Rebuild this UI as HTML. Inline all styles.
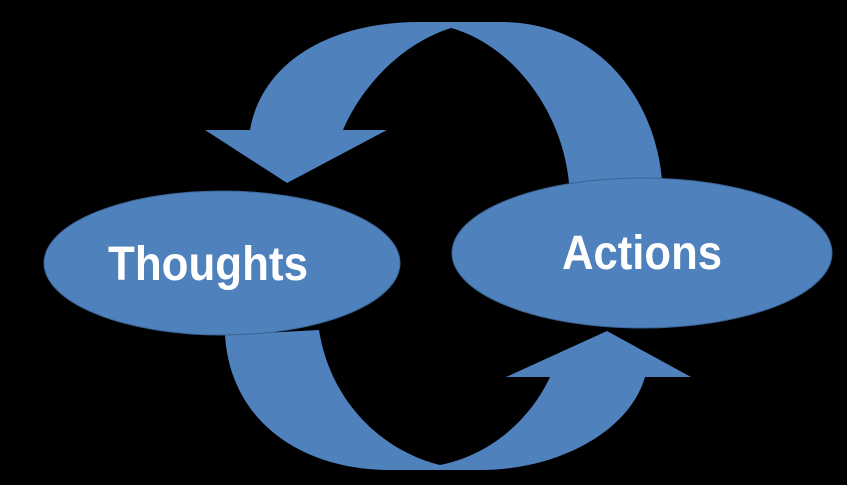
<!DOCTYPE html>
<html><head><style>html,body{margin:0;padding:0;background:#000;}svg{display:block}</style></head>
<body>
<svg width="847" height="485" viewBox="0 0 847 485" xmlns="http://www.w3.org/2000/svg">
<rect width="847" height="485" fill="#000"/>
<path d="M205,130 L250,130 C262,62 330,22 420,22 L500,22 C600,22 655,100 662,180 L569,183 C562,110 512,45 451,28 C398,45 360,90 343,130 L387,130 L287,183 Z" fill="#4f81bd"/>
<path d="M225,335 C230,420 300,470 390,470 L480,470 C560,470 630,430 645,377 L691,377 L607,331 L506,377 L550,377 C530,420 490,455 440,465 C380,450 330,400 319,330 Z" fill="#4f81bd"/>
<ellipse cx="222" cy="263" rx="178" ry="72" fill="#4f81bd" stroke="#3a6494" stroke-width="1"/>
<ellipse cx="642" cy="253" rx="190" ry="75" fill="#4f81bd" stroke="#3a6494" stroke-width="1"/>
<text x="108" y="280" font-family="Liberation Sans, sans-serif" font-weight="bold" font-size="48" fill="#fff" textLength="200" lengthAdjust="spacingAndGlyphs">Thoughts</text>
<text x="562" y="269" font-family="Liberation Sans, sans-serif" font-weight="bold" font-size="48" fill="#fff" textLength="160" lengthAdjust="spacingAndGlyphs">Actions</text>
</svg>
</body></html>
